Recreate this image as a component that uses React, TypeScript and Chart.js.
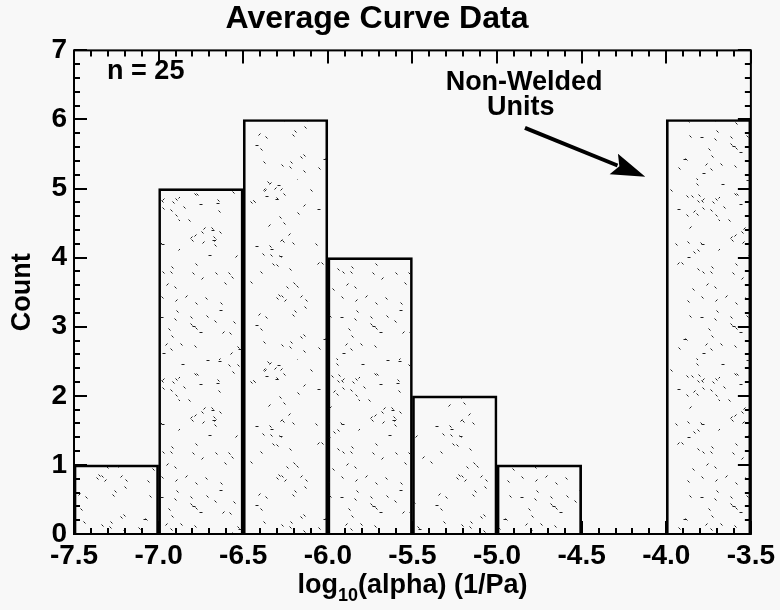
import { useEffect, useRef } from "react";
import { Chart, registerables } from "chart.js";

Chart.register(...registerables);

// Histogram of log10(alpha) values, bins of width 0.5
const binStarts = [-7.5, -7.0, -6.5, -6.0, -5.5, -5.0, -4.5, -4.0];
const binWidth = 0.5;
const counts = [1, 5, 6, 4, 2, 1, 0, 6];
const xTickValues = [-7.5, -7.0, -6.5, -6.0, -5.5, -5.0, -4.5, -4.0, -3.5];
const yTickValues = [0, 1, 2, 3, 4, 5, 6, 7];

const titleText = "Average Curve Data";
const yTitleText = "Count";
const noteLines = ["Non-Welded", "Units"];

const FONT = "'Liberation Sans', Arial, Helvetica, sans-serif";
const BG = "#f8f8f8";

// Small pseudo-random generator for the stipple texture of the bars
function mulberry32(seed: number) {
  let a = seed >>> 0;
  return () => {
    a = (a + 0x6d2b79f5) >>> 0;
    let t = a;
    t = Math.imul(t ^ (t >>> 15), t | 1);
    t ^= t + Math.imul(t ^ (t >>> 7), t | 61);
    return ((t ^ (t >>> 14)) >>> 0) / 4294967296;
  };
}

function makeStipple(): CanvasPattern | string {
  const size = 180;
  const c = document.createElement("canvas");
  c.width = size;
  c.height = size;
  const g = c.getContext("2d");
  if (!g) return "rgba(0,0,0,0)";
  const rnd = mulberry32(20240611);
  g.strokeStyle = "#1e1e1e";
  g.lineWidth = 1;
  for (let i = 0; i < 170; i++) {
    const px = Math.floor(rnd() * size) + 0.5;
    const py = Math.floor(rnd() * size) + 0.5;
    const kind = rnd();
    g.beginPath();
    if (kind < 0.6) {
      g.moveTo(px, py);
      g.lineTo(px + 2, py + 2);
    } else if (kind < 0.85) {
      g.moveTo(px, py + 2);
      g.lineTo(px + 2, py);
    } else {
      g.moveTo(px, py);
      g.lineTo(px + 3, py);
    }
    g.stroke();
  }
  return g.createPattern(c, "repeat") || "rgba(0,0,0,0)";
}

const framePlugin = {
  id: "frameAndNotes",
  afterDatasetsDraw(chart: any) {
    const { ctx, chartArea: a, scales } = chart;
    const x = scales.x;
    const y = scales.y;
    ctx.save();
    ctx.strokeStyle = "#000";
    ctx.fillStyle = "#000";

    // Plot frame
    ctx.lineWidth = 2;
    ctx.strokeRect(a.left, a.top, a.right - a.left, a.bottom - a.top);

    // Inward tick marks on all four sides (5 minor steps per major step)
    ctx.lineWidth = 2;
    const xMin = xTickValues[0];
    const xMax = xTickValues[xTickValues.length - 1];
    const xStep = (xTickValues[1] - xTickValues[0]) / 5;
    const nx = Math.round((xMax - xMin) / xStep);
    for (let i = 0; i <= nx; i++) {
      const px = Math.round(x.getPixelForValue(xMin + i * xStep));
      const len = i % 5 === 0 ? 13 : 6;
      ctx.beginPath();
      ctx.moveTo(px, a.bottom);
      ctx.lineTo(px, a.bottom - len);
      ctx.moveTo(px, a.top);
      ctx.lineTo(px, a.top + len);
      ctx.stroke();
    }
    const yMin = yTickValues[0];
    const yMax = yTickValues[yTickValues.length - 1];
    const yStep = (yTickValues[1] - yTickValues[0]) / 5;
    const ny = Math.round((yMax - yMin) / yStep);
    for (let i = 0; i <= ny; i++) {
      const py = Math.round(y.getPixelForValue(yMin + i * yStep));
      const len = i % 5 === 0 ? 13 : 6;
      ctx.beginPath();
      ctx.moveTo(a.left, py);
      ctx.lineTo(a.left + len, py);
      ctx.moveTo(a.right, py);
      ctx.lineTo(a.right - len, py);
      ctx.stroke();
    }

    // Sample size
    const n = counts.reduce((s, v) => s + v, 0);
    ctx.font = `bold 27px ${FONT}`;
    ctx.textAlign = "center";
    ctx.textBaseline = "middle";
    ctx.fillText(`n = ${n}`, x.getPixelForValue(-7.076), y.getPixelForValue(6.7));

    // Note with arrow pointing at the last bin
    ctx.fillText(noteLines[0], x.getPixelForValue(-4.84), y.getPixelForValue(6.53));
    ctx.fillText(noteLines[1], x.getPixelForValue(-4.86), y.getPixelForValue(6.17));

    const x0 = x.getPixelForValue(-4.835);
    const y0 = y.getPixelForValue(5.88);
    const x1 = x.getPixelForValue(-4.124);
    const y1 = y.getPixelForValue(5.17);
    const dx = x1 - x0;
    const dy = y1 - y0;
    const L = Math.hypot(dx, dy);
    const ux = dx / L;
    const uy = dy / L;
    const headLen = 34;
    const headHalf = 11;
    const bx = x1 - ux * headLen;
    const by = y1 - uy * headLen;
    ctx.lineWidth = 4;
    ctx.beginPath();
    ctx.moveTo(x0, y0);
    ctx.lineTo(bx + ux * 4, by + uy * 4);
    ctx.stroke();
    ctx.beginPath();
    ctx.moveTo(x1, y1);
    ctx.lineTo(bx - uy * headHalf, by + ux * headHalf);
    ctx.lineTo(bx + ux * 6, by + uy * 6);
    ctx.lineTo(bx + uy * headHalf, by - ux * headHalf);
    ctx.closePath();
    ctx.fill();

    // X-axis title with subscript
    const cx = (a.left + a.right) / 2;
    const base = a.bottom + 59;
    const big = `bold 27px ${FONT}`;
    const small = `bold 18px ${FONT}`;
    const p1 = "log";
    const p2 = "10";
    const p3 = "(alpha) (1/Pa)";
    ctx.font = big;
    const w1 = ctx.measureText(p1).width;
    const w3 = ctx.measureText(p3).width;
    ctx.font = small;
    const w2 = ctx.measureText(p2).width;
    let sx = cx - (w1 + w2 + w3) / 2;
    ctx.textAlign = "left";
    ctx.textBaseline = "alphabetic";
    ctx.font = big;
    ctx.fillText(p1, sx, base);
    sx += w1;
    ctx.font = small;
    ctx.fillText(p2, sx, base + 8);
    sx += w2;
    ctx.font = big;
    ctx.fillText(p3, sx, base);

    ctx.restore();
  },
};

export default function App() {
  const canvasRef = useRef<HTMLCanvasElement | null>(null);

  useEffect(() => {
    document.body.style.margin = "0";
    document.body.style.background = BG;
    const canvas = canvasRef.current;
    if (!canvas) return;

    const stipple = makeStipple();
    const points = binStarts.map((s, i) => ({ x: s + binWidth / 2, y: counts[i] }));

    const chart = new Chart(canvas, {
      type: "bar",
      data: {
        datasets: [
          {
            data: points as any,
            backgroundColor: stipple as any,
            borderColor: "#000",
            borderWidth: 2,
            borderSkipped: "start",
            barPercentage: 1,
            categoryPercentage: 1,
          },
        ],
      },
      options: {
        animation: false,
        responsive: true,
        maintainAspectRatio: false,
        layout: { padding: { top: 0, right: 26, bottom: 0, left: 0 } },
        plugins: {
          legend: { display: false },
          tooltip: { enabled: false },
          title: {
            display: true,
            text: titleText,
            color: "#000",
            font: { family: FONT, size: 32, weight: "bold" },
            padding: { top: 0, bottom: 12 },
          },
        },
        scales: {
          x: {
            type: "linear",
            min: xTickValues[0],
            max: xTickValues[xTickValues.length - 1],
            offset: false,
            grid: { display: false, drawTicks: false },
            border: { display: false },
            afterBuildTicks: (scale: any) => {
              scale.ticks = xTickValues.map((v) => ({ value: v }));
            },
            ticks: {
              autoSkip: false,
              maxRotation: 0,
              padding: 5,
              color: "#000",
              font: { family: FONT, size: 28, weight: "bold" },
              callback: (v: any) => Number(v).toFixed(1),
            },
            afterFit: (scale: any) => {
              scale.height = 76;
            },
          },
          y: {
            min: yTickValues[0],
            max: yTickValues[yTickValues.length - 1],
            grid: { display: false, drawTicks: false },
            border: { display: false },
            afterBuildTicks: (scale: any) => {
              scale.ticks = yTickValues.map((v) => ({ value: v }));
            },
            ticks: {
              autoSkip: false,
              padding: 7,
              color: "#000",
              font: { family: FONT, size: 28, weight: "bold" },
              callback: (v: any) => String(v),
            },
            title: {
              display: true,
              text: yTitleText,
              color: "#000",
              font: { family: FONT, size: 27, weight: "bold" },
              padding: { top: 6, bottom: 0 },
            },
            afterFit: (scale: any) => {
              scale.width = 74;
            },
          },
        },
      },
      plugins: [framePlugin],
    });

    return () => chart.destroy();
  }, []);

  return (
    <div style={{ width: 780, height: 610, background: BG, position: "relative" }}>
      <canvas ref={canvasRef} />
    </div>
  );
}
